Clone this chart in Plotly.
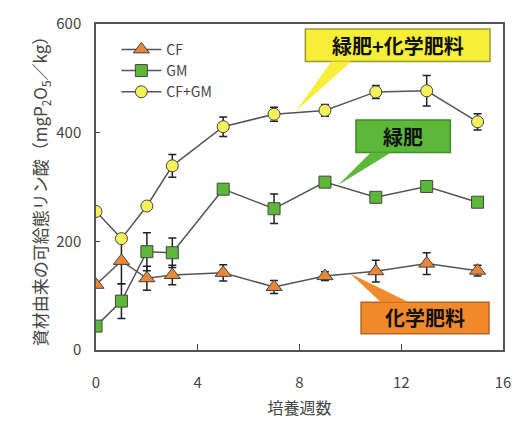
import plotly.graph_objects as go

weeks = [0, 1, 2, 3, 5, 7, 9, 11, 13, 15]
cf = [120, 164, 132, 138, 142, 116, 136, 145, 159, 146]
cf_err = [0, 42, 22, 18, 15, 12, 8, 20, 20, 10]
gm = [44, 90, 181, 179, 296, 260, 309, 281, 301, 272]
gm_err = [0, 32, 35, 27, 8, 27, 0, 6, 0, 0]
cfgm = [255, 205, 265, 339, 411, 434, 441, 475, 477, 420]
cfgm_err = [0, 0, 5, 21, 18, 13, 11, 12, 28, 15]

FONT = "Noto Sans CJK JP, Arial, sans-serif"

fig = go.Figure()

def add(name, y, err, symbol, color, size):
    fig.add_trace(go.Scatter(
        x=weeks, y=y, name=name, mode="lines+markers",
        line=dict(color="#555555", width=1.5),
        marker=dict(symbol=symbol, size=size, color=color,
                    line=dict(color="#444444", width=1)),
        error_y=dict(type="data", array=err, visible=True,
                     color="#222222", thickness=1.5, width=4),
    ))

add("CF", cf, cf_err, "triangle-up", "#E8863A", 14)
add("GM", gm, gm_err, "square", "#5DB83A", 12)
add("CF+GM", cfgm, cfgm_err, "circle", "#F4F25A", 12)

# Callouts (box + tail) in data coordinates
callouts = [
    dict(text="緑肥+化学肥料", box=(8.23, 15.49, 531, 591), fill="#F7EE3A", edge="#9A9A30",
         tail=[(9.25, 531), (7.88, 441), (10.03, 531)]),
    dict(text="緑肥", box=(10.22, 13.93, 363.5, 423.5), fill="#5DB83A", edge="#3D8A2A",
         tail=[(10.8, 363.5), (9.52, 303.5), (11.6, 363.5)]),
    dict(text="化学肥料", box=(10.42, 15.45, 30, 88), fill="#F08A2C", edge="#B8651F",
         tail=[(11.2, 88), (9.99, 141), (12.3, 88)]),
]
for c in callouts:
    x0, x1, y0, y1 = c["box"]
    fig.add_shape(type="rect", x0=x0, x1=x1, y0=y0, y1=y1, xref="x", yref="y",
                  fillcolor=c["fill"], line=dict(color=c["edge"], width=1.5), layer="above")
    (ax, ay), (px, py), (bx, by) = c["tail"]
    fig.add_shape(type="path", path=f"M {ax},{ay} L {px},{py} L {bx},{by} Z",
                  xref="x", yref="y", fillcolor=c["fill"], line=dict(width=0), layer="above")
    fig.add_annotation(x=(x0 + x1) / 2, y=(y0 + y1) / 2, text=f"<b>{c['text']}</b>",
                       showarrow=False, xref="x", yref="y",
                       font=dict(family=FONT, size=20, color="#111111"))

fig.update_layout(
    width=523, height=427,
    margin=dict(l=96, r=17, t=12, b=75),
    paper_bgcolor="white", plot_bgcolor="white",
    font=dict(family=FONT, size=15, color="#444444"),
    showlegend=True,
    legend=dict(x=0.05, y=0.97, xanchor="left", yanchor="top",
                bgcolor="rgba(0,0,0,0)", font=dict(size=14, color="#444444"),
                itemwidth=40, tracegroupgap=2),
)
fig.update_xaxes(range=[0, 16], tickvals=[0, 4, 8, 12, 16], ticks="inside", ticklen=6,
                 showline=True, linecolor="#555555", linewidth=1.5, mirror=True,
                 showgrid=False, zeroline=False, ticklabelstandoff=18,
                 title=dict(text="培養週数", font=dict(size=16, color="#444444"), standoff=12))
fig.update_yaxes(range=[0, 600], tickvals=[0, 200, 400, 600], ticks="inside", ticklen=4,
                 showline=True, linecolor="#555555", linewidth=1.5, mirror=True,
                 showgrid=False, zeroline=False, ticklabelstandoff=10,
                 title=dict(text="資材由来の可給態リン酸（mgP<sub>2</sub>O<sub>5</sub>／kg）",
                            font=dict(size=17, color="#444444"), standoff=4))

fig.write_html("out.html", config={"displayModeBar": False},
               post_script="document.body.style.margin='0';document.body.style.overflow='hidden';")
